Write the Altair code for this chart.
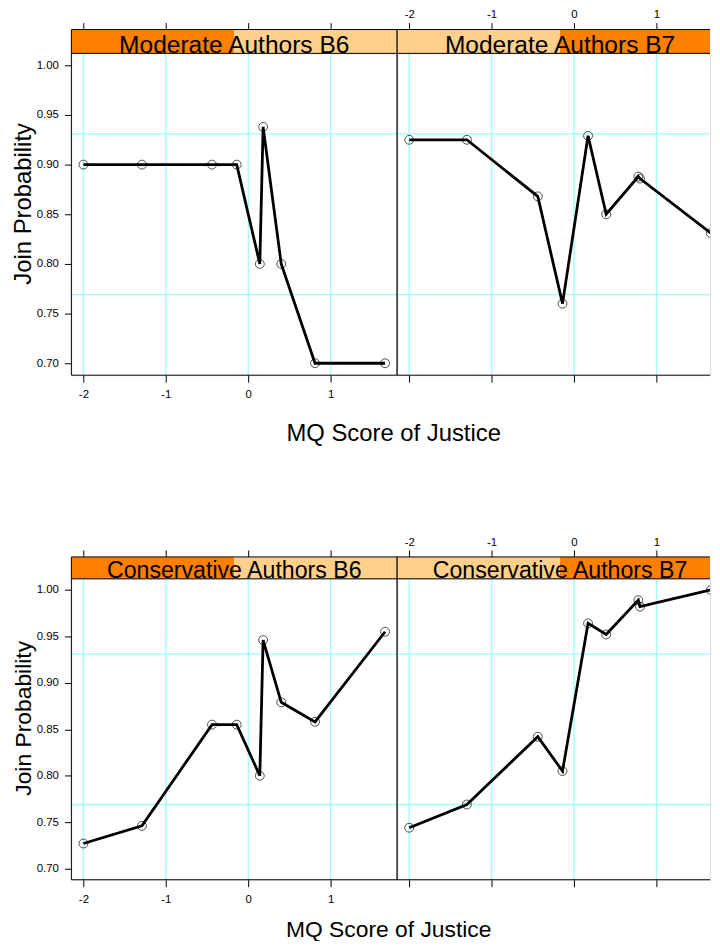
import altair as alt
import pandas as pd

# ---------------- data ----------------
x_b6 = [-2.00, -1.29, -0.44, -0.14, 0.14, 0.18, 0.40, 0.81, 1.66]
x_b7 = [-2.00, -1.30, -0.44, -0.14, 0.17, 0.39, 0.78, 0.80, 1.66]

moderate_b6 = [0.900, 0.900, 0.900, 0.900, 0.800, 0.938, 0.800, 0.700, 0.700]
moderate_b7 = [0.925, 0.925, 0.868, 0.760, 0.929, 0.850, 0.888, 0.886, 0.831]
conservative_b6 = [0.727, 0.746, 0.855, 0.855, 0.800, 0.946, 0.879, 0.858, 0.955]
conservative_b7 = [0.744, 0.769, 0.842, 0.805, 0.964, 0.952, 0.989, 0.982, 1.000]

panel_titles = ["Moderate Authors B6", "Moderate Authors B7",
                "Conservative Authors B6", "Conservative Authors B7"]
x_ticks = [-2, -1, 0, 1]
y_ticks = [0.70, 0.75, 0.80, 0.85, 0.90, 0.95, 1.00]
h_grid = [0.769, 0.931]

x_title = "MQ Score of Justice"
y_title = "Join Probability"

# ---------------- styling / layout ----------------
FONT = "Liberation Sans"
ORANGE = "#FF7F00"
PEACH = "#FFD08C"
GRID = "#9CFCFC"

X_LO, X_HI = -2.1464, 1.8064
Y_DOM = [0.688, 1.012]
W = [328, 315]          # panel widths (right one is cut by the page edge)
H = [324, 303]          # panel heights per row
SH = [24, 22]           # strip heights per row
FS = [24.7, 23.3]       # strip text size per row
TS = [24, 23]           # axis title size per row
XT_X = [324, 319]
XT_Y = [66, 57]
YT_Y = [151, 140]
BPAD = [6, 7]
TPAD = [3, 3]
PX_UNIT = W[0] / (X_HI - X_LO)


def panel(xs, ys, title, row, col):
    w, h, sh, fs = W[col], H[row], SH[row], FS[row]
    half = W[0] / 2
    xscale = alt.Scale(domain=[X_LO, X_LO + w / PX_UNIT], nice=False, zero=False)
    yscale = alt.Scale(domain=Y_DOM, nice=False, zero=False)
    df = pd.DataFrame({"x": xs, "y": ys})
    one = pd.DataFrame({"k": [0]})

    lab = dict(labelFont=FONT, labelFontSize=11.5, labelColor="black")

    if col == 0:
        y_axis = alt.Axis(
            orient="left", values=y_ticks, format=".2f", tickSize=7,
            tickColor="black", tickWidth=1, domain=False, grid=False,
            labelPadding=6, title=y_title, titleFont=FONT, titleFontSize=TS[row],
            titleFontWeight="normal", titleColor="black", titleAngle=270,
            titleAlign="center", titleBaseline="alphabetic", titleX=-41,
            titleY=YT_Y[row], **lab)
    else:
        y_axis = None

    top_axis = alt.Axis(orient="top", offset=sh, values=x_ticks, tickSize=7,
                        tickColor="black", tickWidth=1, domain=False, grid=False,
                        labels=(col == 1), labelExpr="toString(datum.value)",
                        labelPadding=TPAD[row], **lab)
    vgrid = alt.Chart(pd.DataFrame({"gx": x_ticks})).mark_rule(
        color=GRID, strokeWidth=1.3).encode(
        x=alt.X("gx:Q", scale=xscale, axis=top_axis, title=None))
    hgrid = alt.Chart(pd.DataFrame({"gy": h_grid})).mark_rule(
        color=GRID, strokeWidth=1.3).encode(
        y=alt.Y("gy:Q", scale=yscale, axis=y_axis))

    lc = ORANGE if col == 0 else PEACH
    rc = PEACH if col == 0 else ORANGE
    s1 = alt.Chart(one).mark_rect(color=lc).encode(
        x=alt.value(0), x2=alt.value(half), y=alt.value(-sh), y2=alt.value(0))
    s2 = alt.Chart(one).mark_rect(color=rc).encode(
        x=alt.value(half), x2=alt.value(w), y=alt.value(-sh), y2=alt.value(0))
    stext = alt.Chart(one).mark_text(
        text=title, font=FONT, fontSize=fs, baseline="alphabetic",
        align="center", color="black").encode(
        x=alt.value(half), y=alt.value(-0.5))

    borders = [
        alt.Chart(one).mark_rule(color="black", strokeWidth=1).encode(
            x=alt.value(0), x2=alt.value(w), y=alt.value(yy))
        for yy in (-sh, 0, h)
    ]
    vlines = [0, w] if col == 0 else [0]
    borders += [
        alt.Chart(one).mark_rule(color="black", strokeWidth=1).encode(
            x=alt.value(xx), y=alt.value(-sh), y2=alt.value(h))
        for xx in vlines
    ]

    bkw = dict(orient="bottom", values=x_ticks, tickSize=7, tickColor="black",
               tickWidth=1, domain=False, grid=False, labels=(col == 0),
               labelExpr="toString(datum.value)", labelPadding=BPAD[row], **lab)
    if col == 0:
        bkw.update(title=x_title, titleFont=FONT, titleFontSize=TS[row],
                   titleFontWeight="normal", titleColor="black",
                   titleX=XT_X[row], titleY=XT_Y[row], titleAlign="center",
                   titleBaseline="alphabetic")
        xenc = alt.X("x:Q", scale=xscale, axis=alt.Axis(**bkw))
    else:
        xenc = alt.X("x:Q", scale=xscale, axis=alt.Axis(**bkw), title=None)
    yenc = alt.Y("y:Q", scale=yscale, axis=y_axis)

    line = alt.Chart(df).mark_line(color="black", strokeWidth=2.8, clip=True).encode(
        x=xenc, y=yenc)
    pts = alt.Chart(df).mark_point(shape="circle", filled=False, size=80,
                                   strokeWidth=1, color="black", clip=True).encode(
        x=alt.X("x:Q", scale=xscale, axis=None),
        y=alt.Y("y:Q", scale=yscale, axis=y_axis))

    return alt.layer(vgrid, hgrid, s1, s2, stext, *borders, line, pts).resolve_axis(
        x="independent").properties(width=w, height=h)


tl = panel(x_b6, moderate_b6, panel_titles[0], 0, 0)
tr = panel(x_b7, moderate_b7, panel_titles[1], 0, 1)
bl = panel(x_b6, conservative_b6, panel_titles[2], 1, 0)
br = panel(x_b7, conservative_b7, panel_titles[3], 1, 1)

chart = alt.concat(tl, tr, bl, br, columns=2,
                   spacing={"row": 205, "column": 0}, bounds="flush").properties(
    padding={"left": 2.8, "top": -3.5, "right": 0, "bottom": -4.5}
).configure_view(stroke="transparent").configure(font=FONT, background="white")

chart.save("out.html", embed_options={"renderer": "svg", "actions": False})
